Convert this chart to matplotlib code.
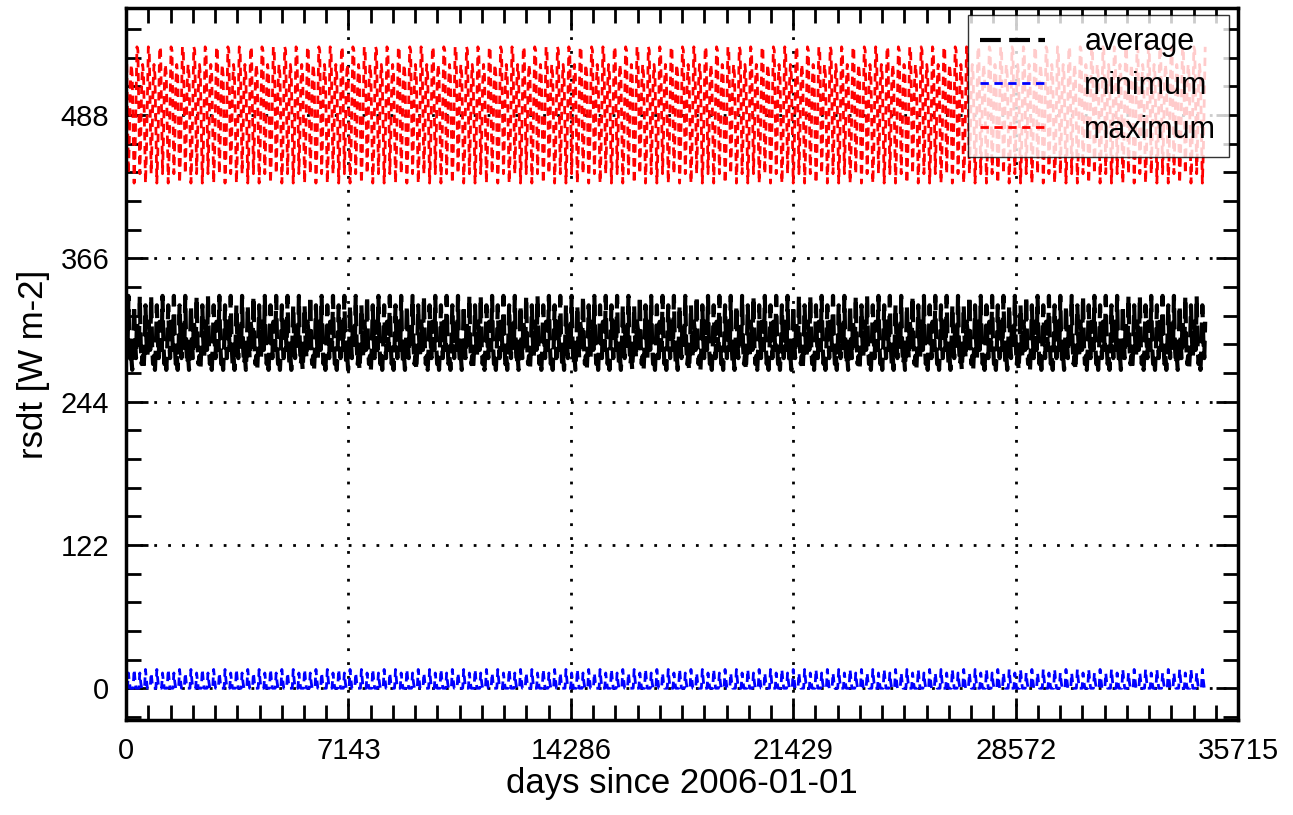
import numpy as np
import matplotlib.pyplot as plt

plt.rcParams['font.family'] = ['Liberation Sans', 'DejaVu Sans']

# monthly climatology (W m-2), Jan..Dec
avg_clim = [305, 288, 334, 292, 276, 283, 271, 290, 326, 297, 281, 312]
min_clim = [0, 0, 13, 5, 0, 0, 0, 0, 16, 7, 0, 0]
max_clim = [543, 492, 438, 468, 514, 531, 522, 478, 430, 455, 503, 546]
n_years = 95  # 2006-2100

xticks = [0, 7143, 14286, 21429, 28572, 35715]
yticks = [0, 122, 244, 366, 488]

# mid-month day offsets since 2006-01-01
days = np.arange(n_years * 12) * 365.0 / 12 + 15
avg = np.tile(avg_clim, n_years)
mn = np.tile(min_clim, n_years)
mx = np.tile(max_clim, n_years)

fig = plt.figure(figsize=(12.93, 8.15), dpi=100)
ax = fig.add_axes([0.0975, 0.1166, 0.86, 0.8735])

ax.plot(days, avg, color='black', lw=3, ls=(0, (5, 2)), label='average')
ax.plot(days, mn, color='blue', lw=2, ls=(0, (3, 2)), label='minimum')
ax.plot(days, mx, color='red', lw=2, ls=(0, (3, 2)), label='maximum')

ax.set_xlim(0, 35715)
ax.set_ylim(-27, 579)
ax.set_xticks(xticks)
ax.set_yticks(yticks)
ax.set_xticks(np.arange(0, 35716, 714.3), minor=True)
ax.set_yticks(np.arange(-24.4, 580, 24.4), minor=True)
ax.tick_params(which='both', direction='in', top=True, right=True, width=2,
               labelsize=21, pad=12)
ax.tick_params(which='major', length=16)
ax.tick_params(which='minor', length=11)
for s in ax.spines.values():
    s.set_linewidth(2.5)

for x in xticks[1:-1]:
    ax.axvline(x, color='black', ls=(0, (1, 4)), lw=2, zorder=0)
for y in yticks:
    ax.axhline(y, color='black', ls=(0, (1, 4)), lw=2, zorder=0)

ax.set_xlabel('days since 2006-01-01', fontsize=25, labelpad=2)
ax.set_ylabel('rsdt [W m-2]', fontsize=25, labelpad=8)

leg = ax.legend(loc='upper right', bbox_to_anchor=(0.9915, 0.99), fontsize=22,
                frameon=True, fancybox=False, edgecolor='black',
                handlelength=2.1, handletextpad=1.3, borderpad=0.4,
                labelspacing=0.45, borderaxespad=0)
leg.get_frame().set_linewidth(1)

fig.savefig('out.png', dpi=100)
